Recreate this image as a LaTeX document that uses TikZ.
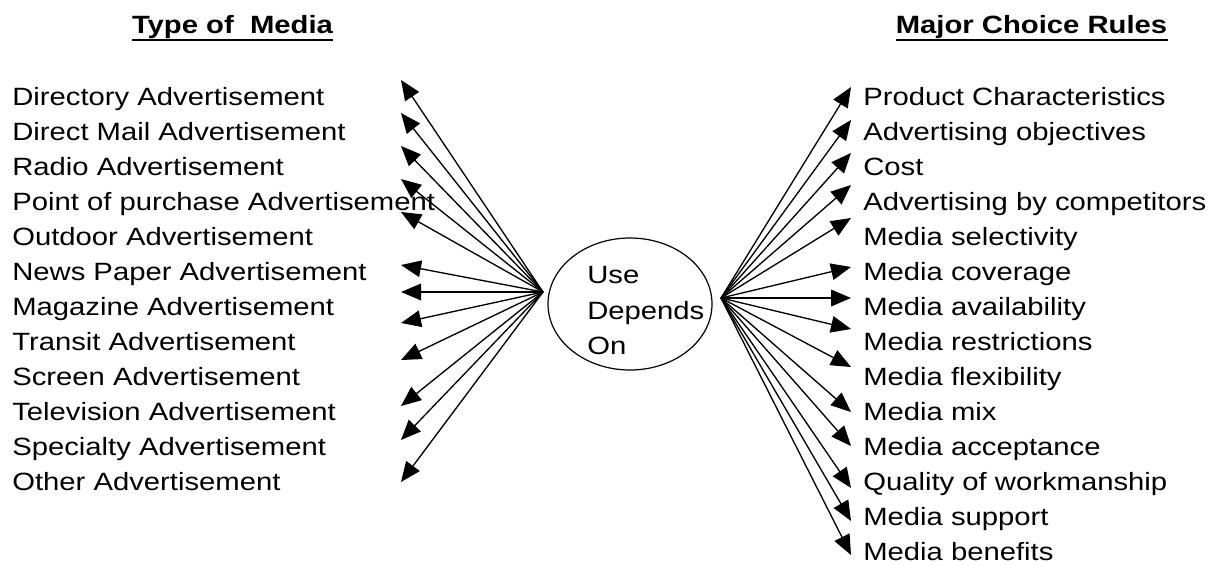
\documentclass[tikz,border=0pt]{standalone}
\usepackage{fontspec}
\setmainfont[FakeStretch=1.17]{Liberation Sans}
\usetikzlibrary{arrows.meta,shapes.geometric}
\begin{document}
\begin{tikzpicture}[x=0.75pt,y=-0.75pt,
  lbl/.style={inner sep=0pt, font=\fontsize{18.75pt}{22pt}\selectfont},
  ttl/.style={inner sep=0pt, font=\fontsize{18.75pt}{22pt}\selectfont\bfseries},
  arr/.style={line width=1pt, -{Triangle[length=15pt,width=12.5pt]}},
]
\useasboundingbox (0,0) rectangle (1216,565);

% column headings, underlined
\node[ttl, anchor=base] (tleft) at (232.5,33) {Type of~ Media};
\node[ttl, anchor=base] (tright) at (1031.5,33) {Major Choice Rules};
\draw[line width=1.5pt] ([yshift=-5pt]tleft.base west) -- ([yshift=-5pt]tleft.base east);
\draw[line width=1.5pt] ([yshift=-5pt]tright.base west) -- ([yshift=-5pt]tright.base east);

% media types
\foreach \t [count=\i] in {Directory Advertisement, Direct Mail Advertisement,
    Radio Advertisement, Point of purchase Advertisement, Outdoor Advertisement,
    News Paper Advertisement, Magazine Advertisement, Transit Advertisement,
    Screen Advertisement, Television Advertisement, Specialty Advertisement,
    Other Advertisement}
  \node[lbl, anchor=base west] (m\i) at (12,{105+35*(\i-1)}) {\t};

% choice rules
\foreach \t [count=\i] in {Product Characteristics, Advertising objectives, Cost,
    Advertising by competitors, Media selectivity, Media coverage,
    Media availability, Media restrictions, Media flexibility, Media mix,
    Media acceptance, Quality of workmanship, Media support, Media benefits}
  \node[lbl, anchor=base west] (r\i) at (863,{105+35*(\i-1)}) {\t};

% central ellipse
\node[draw, ellipse, line width=0.9pt, minimum width=123pt, minimum height=99pt,
      inner sep=0pt] (hub) at (630,304) {};
\node[lbl, anchor=base west] (u1) at (587,283) {Use};
\node[lbl, anchor=base west] (u2) at (587,319) {Depends};
\node[lbl, anchor=base west] (u3) at (587,354) {On};

\coordinate (hubL) at (543,292);
\coordinate (hubR) at (721,298);

% arrow ends
\foreach \y [count=\i] in {80,113,146,179,212,265,292,323,360,406,440,482}
  \coordinate (L\i) at (401,\y);
\foreach \y [count=\i] in {87,120,153,185,218,267,298,329,367,412,446,488,521,555}
  \coordinate (R\i) at (851,\y);

\foreach \i in {1,...,12} \draw[arr] (hubL) -- (L\i);
\foreach \i in {1,...,14} \draw[arr] (hubR) -- (R\i);
\end{tikzpicture}
\end{document}
